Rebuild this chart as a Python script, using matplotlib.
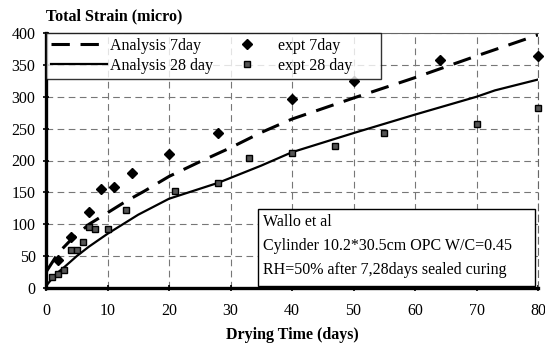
import numpy as np
import matplotlib
matplotlib.use('Agg')
import matplotlib.pyplot as plt
from matplotlib.patches import Rectangle

plt.rcParams['font.family'] = 'Liberation Serif'

# analysis curves
ana_days = [0, 1, 2, 4, 7, 10, 13, 16, 20, 25, 30, 35, 40, 50, 60, 70, 80]
ana_7day = [25, 40, 55, 75, 100, 118, 136, 152, 175, 198, 220, 244, 265, 298, 330, 364, 397]
ana28_days = [0, 1, 2, 3, 5, 7, 10, 15, 20, 28, 35, 40, 50, 60, 70, 73, 80]
ana_28day = [3, 15, 25, 33, 50, 65, 85, 115, 140, 165, 192, 213, 243, 272, 300, 310, 327]

# experimental points
exp7_days = [2, 4, 7, 9, 11, 14, 20, 28, 40, 50, 64, 80]
exp7_strain = [44, 80, 119, 155, 158, 180, 210, 243, 297, 325, 358, 364]
exp28_days = [1, 2, 3, 4, 5, 6, 7, 8, 10, 13, 21, 28, 33, 40, 47, 55, 70, 80]
exp28_strain = [18, 22, 29, 60, 60, 72, 96, 92, 93, 123, 152, 165, 204, 212, 222, 243, 257, 282]

xticks = [0, 10, 20, 30, 40, 50, 60, 70, 80]
yticks = [0, 50, 100, 150, 200, 250, 300, 350, 400]

note_lines = ['Wallo et al',
              'Cylinder 10.2*30.5cm OPC W/C=0.45',
              'RH=50% after 7,28days sealed curing']

fig = plt.figure(figsize=(5.45, 3.48), dpi=100)
ax = fig.add_axes([46/545, 1-288/348, 492/545, 255/348])

ax.plot(ana_days, ana_7day, color='black', lw=2.2, dashes=(6, 3.5), label='Analysis 7day', zorder=3)
ax.plot(ana28_days, ana_28day, color='black', lw=1.6, label='Analysis 28 day', zorder=3)
ax.plot(exp7_days, exp7_strain, 'D', color='black', ms=5.5, label='expt 7day', clip_on=False, zorder=4)
ax.plot(exp28_days, exp28_strain, 's', mfc='#555555', mec='black', ms=5, label='expt 28 day      ',
        clip_on=False, zorder=4)

ax.set_xlim(0, 80)
ax.set_ylim(0, 400)
ax.set_xticks(xticks)
ax.set_yticks(yticks)
ax.grid(True, color='#777777', lw=0.8, dashes=(6, 4))
ax.tick_params(labelsize=11.5, direction='inout', length=5, width=1.2)
ax.tick_params(axis='x', pad=8)
ax.tick_params(axis='y', pad=5)

for s in ['left', 'bottom']:
    ax.spines[s].set_linewidth(2.4)
ax.spines['top'].set_color('#666666')
ax.spines['top'].set_linewidth(0.8)
ax.spines['right'].set_color('#666666')
ax.spines['right'].set_linewidth(0.8)
ax.spines['right'].set_linestyle((0, (6, 4)))

h, l = ax.get_legend_handles_labels()
leg = ax.legend(h, l, ncol=2, loc='upper left', bbox_to_anchor=(0, 1), borderaxespad=0,
                fontsize=11.5, frameon=True, fancybox=False, edgecolor='black',
                handlelength=3.5, handletextpad=0.2, columnspacing=0.4,
                labelspacing=0.25, borderpad=0.3)
leg.get_frame().set_linewidth(1.0)
leg.set_zorder(5)

ax.add_patch(Rectangle((0.431, 0.008), 0.563, 0.302, transform=ax.transAxes,
                       facecolor='white', edgecolor='black', lw=1.0, zorder=5))
for i, t in enumerate(note_lines):
    ax.text(0.441, 0.259 - i*0.094, t, transform=ax.transAxes, va='center', ha='left',
            fontsize=11.5, zorder=6)

ax.set_title('Total Strain (micro)', loc='left', fontweight='bold', fontsize=11.5, pad=9)
ax.set_xlabel('Drying Time (days)', fontweight='bold', fontsize=11.5, labelpad=6)

fig.savefig('out.png', dpi=100)
